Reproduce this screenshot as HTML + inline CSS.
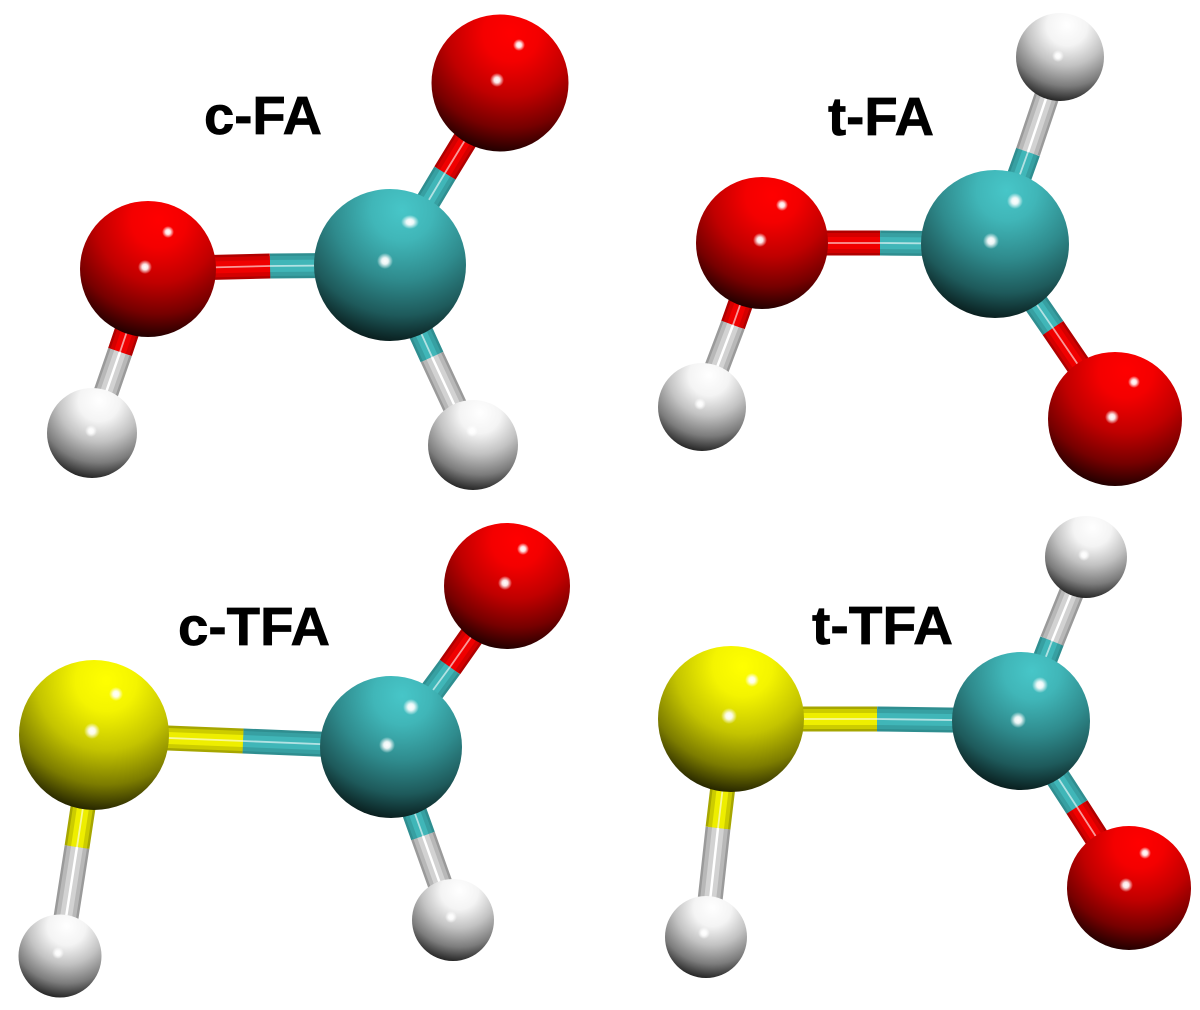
<!DOCTYPE html>
<html><head><meta charset="utf-8"><style>html,body{margin:0;padding:0;background:#fff}svg{display:block}text{font-family:"Liberation Sans",sans-serif;font-weight:bold;font-size:54px;fill:#000;stroke:#000;stroke-width:.7px}</style></head><body>
<svg width="1200" height="1010" viewBox="0 0 1200 1010" xmlns="http://www.w3.org/2000/svg">
<defs>
<radialGradient id="r" cx=".58" cy=".14" r=".92"><stop offset="0" stop-color="#f00"/><stop offset=".22" stop-color="#f40000"/><stop offset=".5" stop-color="#c00000"/><stop offset=".75" stop-color="#760000"/><stop offset=".92" stop-color="#2c0000"/><stop offset="1" stop-color="#0a0000"/></radialGradient>
<radialGradient id="t" cx=".58" cy=".14" r=".92"><stop offset="0" stop-color="#47c6c8"/><stop offset=".22" stop-color="#40b6b8"/><stop offset=".5" stop-color="#2f8b8d"/><stop offset=".75" stop-color="#1e5a5b"/><stop offset=".92" stop-color="#0c2626"/><stop offset="1" stop-color="#040c0c"/></radialGradient>
<radialGradient id="y" cx=".58" cy=".14" r=".92"><stop offset="0" stop-color="#ff0"/><stop offset=".22" stop-color="#f4f400"/><stop offset=".5" stop-color="#c4c400"/><stop offset=".75" stop-color="#7c7c00"/><stop offset=".92" stop-color="#303000"/><stop offset="1" stop-color="#0a0a00"/></radialGradient>
<radialGradient id="w" cx=".58" cy=".14" r=".92"><stop offset="0" stop-color="#fff"/><stop offset=".25" stop-color="#f4f4f4"/><stop offset=".5" stop-color="#c2c2c2"/><stop offset=".75" stop-color="#7c7c7c"/><stop offset=".92" stop-color="#303030"/><stop offset="1" stop-color="#0c0c0c"/></radialGradient>
<radialGradient id="h"><stop offset="0" stop-color="#fff"/><stop offset=".4" stop-color="#fff" stop-opacity=".9"/><stop offset="1" stop-color="#fff" stop-opacity="0"/></radialGradient>
<path id="bt" fill="none" d="M390 265L445 173M390 265L270 266M390 265L432 357M995 244L1028 152M995 244L880 243M995 244L1053 328M391 747L450 667M391 747L243 741M391 747L423 836M1021 721L1052 641M1021 721L877 719M1021 721L1077 807"/>
<path id="br" fill="none" d="M500 83L445 173M148 269L270 266M148 269L120 352M762 243L880 243M762 243L733 325M1115 419L1053 328M507 586L450 667M1129 888L1077 807"/>
<path id="bw" fill="none" d="M92 433L120 352M473 445L432 357M1060 57L1028 152M702 407L733 325M60 956L77 847M453 920L423 836M1086 557L1052 641M706 937L718 828"/>
<path id="by" fill="none" d="M94 735L243 741M94 735L77 847M731 719L877 719M731 719L718 828"/>
</defs>
<rect width="1200" height="1010" fill="#fff"/>
<g stroke-width="25">
<use href="#bt" stroke="#2f8e90"/><use href="#br" stroke="#b00000"/><use href="#bw" stroke="#9a9a9a"/><use href="#by" stroke="#a6a600"/>
</g>
<g stroke-width="20">
<use href="#bt" stroke="#37a0a2"/><use href="#br" stroke="#d40000"/><use href="#bw" stroke="#b8b8b8"/><use href="#by" stroke="#cccc00"/>
</g>
<g stroke-width="12">
<use href="#bt" stroke="#40b6b8"/><use href="#br" stroke="#f00000"/><use href="#bw" stroke="#d2d2d2"/><use href="#by" stroke="#eeee00"/>
</g>
<g stroke-width="1.8" stroke-opacity=".6">
<use href="#bt" stroke="#fff"/><use href="#br" stroke="#fff"/><use href="#by" stroke="#fff"/>
</g>
<use href="#bw" stroke="#fff" stroke-width="2.5"/>
<circle cx="500" cy="83" r="68.5" fill="url(#r)"/>
<circle cx="390" cy="265" r="76" fill="url(#t)"/>
<circle cx="148" cy="269" r="68" fill="url(#r)"/>
<circle cx="92" cy="433" r="45" fill="url(#w)"/>
<circle cx="473" cy="445" r="45" fill="url(#w)"/>
<circle cx="1060" cy="57" r="44" fill="url(#w)"/>
<circle cx="995" cy="244" r="74" fill="url(#t)"/>
<circle cx="762" cy="243" r="66" fill="url(#r)"/>
<circle cx="702" cy="407" r="44" fill="url(#w)"/>
<circle cx="1115" cy="419" r="67" fill="url(#r)"/>
<circle cx="507" cy="586" r="63" fill="url(#r)"/>
<circle cx="391" cy="747" r="71" fill="url(#t)"/>
<circle cx="94" cy="735" r="75" fill="url(#y)"/>
<circle cx="60" cy="956" r="41.5" fill="url(#w)"/>
<circle cx="453" cy="920" r="41" fill="url(#w)"/>
<circle cx="1086" cy="557" r="41" fill="url(#w)"/>
<circle cx="1021" cy="721" r="69" fill="url(#t)"/>
<circle cx="731" cy="719" r="73" fill="url(#y)"/>
<circle cx="706" cy="937" r="41" fill="url(#w)"/>
<circle cx="1129" cy="888" r="62" fill="url(#r)"/>
<g fill="url(#h)">
<circle cx="519" cy="45" r="6"/><circle cx="497" cy="80" r="7"/>
<ellipse cx="410" cy="222" rx="9" ry="7"/><circle cx="385" cy="261" r="8"/>
<circle cx="168" cy="232" r="6"/><circle cx="145" cy="267" r="7"/>
<circle cx="91" cy="431" r="6"/><circle cx="472" cy="431" r="6"/>
<circle cx="1058" cy="56" r="6"/>
<circle cx="1015" cy="201" r="8"/><circle cx="991" cy="241" r="8"/>
<circle cx="782" cy="205" r="6"/><circle cx="760" cy="240" r="7"/>
<circle cx="700" cy="404" r="6"/>
<circle cx="1134" cy="382" r="6"/><circle cx="1112" cy="417" r="7"/>
<circle cx="523" cy="549" r="6"/><circle cx="505" cy="583" r="7"/>
<circle cx="411" cy="707" r="8"/><circle cx="387" cy="745" r="8"/>
<circle cx="116" cy="694" r="7"/><circle cx="92" cy="731" r="8"/>
<circle cx="58" cy="953" r="6"/><circle cx="451" cy="917" r="6"/>
<circle cx="1084" cy="555" r="6"/>
<circle cx="1040" cy="685" r="8"/><circle cx="1018" cy="720" r="8"/>
<circle cx="752" cy="680" r="7"/><circle cx="729" cy="716" r="8"/>
<circle cx="704" cy="933" r="6"/>
<circle cx="1145" cy="853" r="6"/><circle cx="1126" cy="885" r="7"/>
</g>
<text x="204" y="134" textLength="118" lengthAdjust="spacingAndGlyphs">c-FA</text>
<text x="828" y="135" textLength="106" lengthAdjust="spacingAndGlyphs">t-FA</text>
<text x="178" y="645" textLength="152" lengthAdjust="spacingAndGlyphs">c-TFA</text>
<text x="812" y="644" textLength="141" lengthAdjust="spacingAndGlyphs">t-TFA</text>
</svg>
</body></html>
